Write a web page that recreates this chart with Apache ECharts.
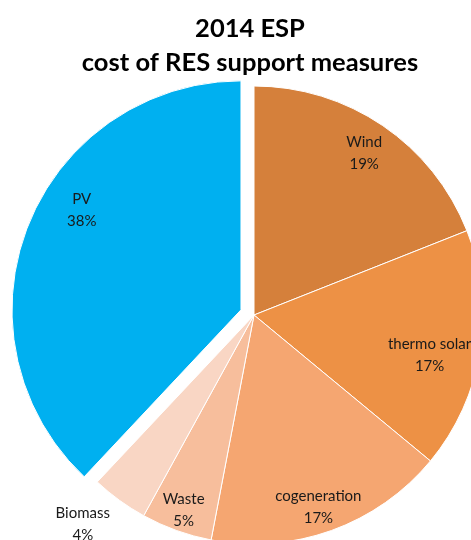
<!DOCTYPE html>
<html><head><meta charset="utf-8">
<script src="https://cdn.jsdelivr.net/npm/echarts@6/dist/echarts.min.js"></script>
<style>html,body{margin:0;padding:0;background:#fff}#c{width:471px;height:540px}</style>
</head><body><div id="c"></div>
<script>
const categories = ['Wind', 'thermo solar', 'cogeneration', 'Waste', 'Biomass', 'PV'];
const shares = [19, 17, 17, 5, 4, 38];
const titleText = '2014 ESP\ncost of RES support measures';

const colors = ['#D5803B', '#ED9145', '#F5A671', '#F7BE9C', '#F9D6C4', '#00B0F0'];
const labelNudge = { 'thermo solar': [-18, 9], 'cogeneration': [-2, 8], 'Waste': [-4, 11], 'Biomass': [-56, 51], 'PV': [23, -28] };
const exploded = 'PV';

const chart = echarts.init(document.getElementById('c'), null, { renderer: 'canvas' });
const baseData = categories.map((n, i) => ({
  name: n, value: shares[i], selected: n === exploded,
  itemStyle: { color: colors[i] }
}));
const labelData = categories.map((n, i) => {
  const off = labelNudge[n] || [0, 0];
  return {
    name: n, value: shares[i], selected: n === exploded,
    label: { offset: off },
    select: { label: { offset: off } }
  };
});
chart.setOption({
  animation: false,
  title: {
    text: titleText, left: 245, textAlign: 'center', top: 7,
    textStyle: { fontFamily: 'Lato', fontWeight: 'bold', fontSize: 25.5, lineHeight: 34, color: '#000' }
  },
  series: [{
    type: 'pie', center: [254, 315], radius: [0, 229], startAngle: 90, clockwise: true,
    selectedMode: 'single', selectedOffset: 14, data: baseData,
    label: { show: false }, labelLine: { show: false },
    itemStyle: { borderColor: '#fff', borderWidth: 1 },
    emphasis: { disabled: true }, silent: true
  }, {
    type: 'pie', center: [254, 315], radius: [157, 229], startAngle: 90, clockwise: true,
    selectedMode: 'single', selectedOffset: 14, data: labelData,
    itemStyle: { color: 'rgba(0,0,0,0)', borderWidth: 0 },
    label: {
      show: true, position: 'inside', formatter: p => p.name + '\n' + p.value + '%',
      fontFamily: 'Lato', fontSize: 15, lineHeight: 22, color: '#1a1a1a', align: 'center'
    },
    labelLine: { show: false }, emphasis: { disabled: true }, silent: true, z: 5
  }]
});
</script></body></html>
